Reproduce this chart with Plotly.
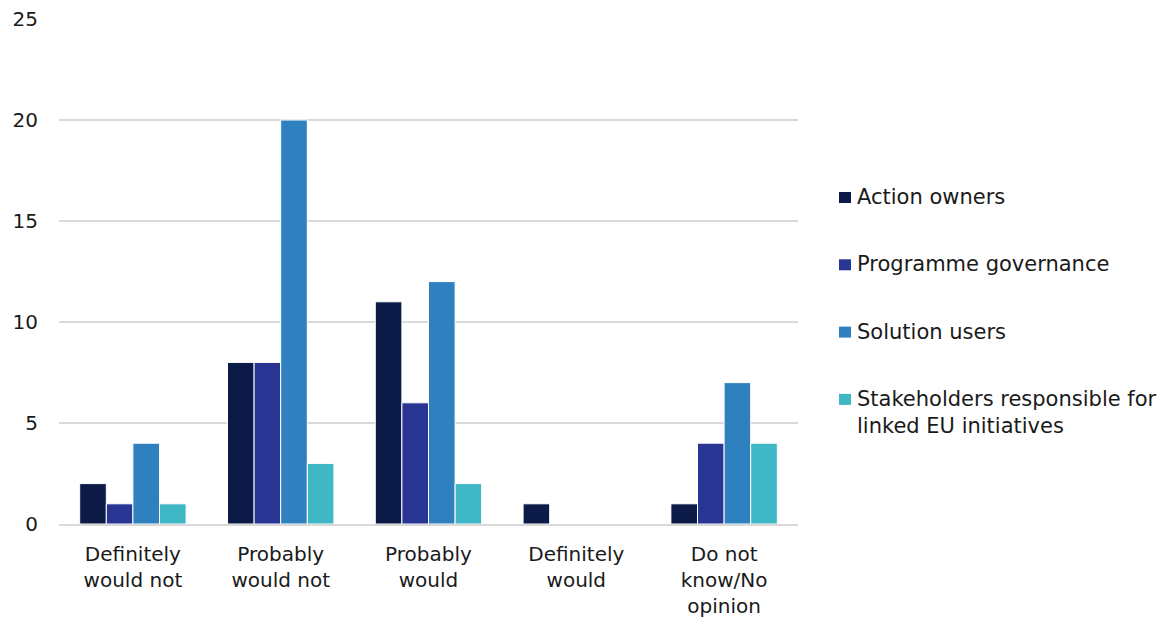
import plotly.graph_objects as go

categories = ["Definitely<br>would not", "Probably<br>would not", "Probably<br>would",
              "Definitely<br>would", "Do not<br>know/No<br>opinion"]

series_names = ["Action owners", "Programme governance", "Solution users",
                "Stakeholders responsible for<br>linked EU initiatives"]
action_owners = [2, 8, 11, 1, 1]
programme_governance = [1, 8, 6, 0, 4]
solution_users = [4, 20, 12, 0, 7]
stakeholders_linked = [1, 3, 2, 0, 4]

colors = ["#0b1a47", "#283593", "#2e81be", "#40b7c5"]
values = [action_owners, programme_governance, solution_users, stakeholders_linked]

font_family = "DejaVu Sans"
text_color = "#1a1a1a"
legend_size = 21
label_size = 20
num_size = 20

# plot-area geometry in pixels
W, H = 1173, 617
ML, MR, MT, MB = 59, 375, 19, 93
PW, PH = W - ML - MR, H - MT - MB


def px_x(px):
    return (px - ML) / PW


def px_y(py):
    return (H - MB - py) / PH


fig = go.Figure()
for name, vals, col in zip(series_names, values, colors):
    fig.add_trace(go.Bar(
        x=categories, y=vals, name=name, showlegend=False,
        marker=dict(color=col, line=dict(color="white", width=1)),
    ))

# legend drawn as swatches + labels to the right of the plot
shapes, annotations = [], []
for i, (name, col) in enumerate(zip(series_names, colors)):
    yc = 197.5 + 67.3 * i
    shapes.append(dict(
        type="rect", xref="paper", yref="paper",
        x0=px_x(839), x1=px_x(851), y0=px_y(yc + 5.5), y1=px_y(yc - 5.5),
        fillcolor=col, line=dict(width=0),
    ))
    annotations.append(dict(
        xref="paper", yref="paper", x=px_x(855), y=px_y(yc - 14.5),
        xanchor="left", yanchor="top", align="left", showarrow=False,
        text=name, font=dict(family=font_family, size=legend_size, color=text_color),
    ))

fig.update_layout(
    width=W, height=H,
    margin=dict(l=ML, r=MR, t=MT, b=MB, autoexpand=False),
    paper_bgcolor="white", plot_bgcolor="white",
    barmode="group", bargap=0.28, bargroupgap=0,
    font=dict(family=font_family, size=label_size, color=text_color),
    showlegend=False,
    shapes=shapes, annotations=annotations,
)
fig.update_yaxes(
    range=[0, 25], dtick=5, showgrid=True, gridcolor="#d9d9d9", gridwidth=1.5,
    zeroline=False, showline=False, ticks="", ticklabelstandoff=20,
    automargin=False,
    tickfont=dict(family=font_family, size=num_size, color=text_color),
)
fig.update_xaxes(
    showline=True, linecolor="#d9d9d9", linewidth=1.5, layer="above traces",
    ticks="", ticklabelstandoff=11, automargin=False,
    tickfont=dict(family=font_family, size=label_size, color=text_color),
)

fig.write_html("out.html")
